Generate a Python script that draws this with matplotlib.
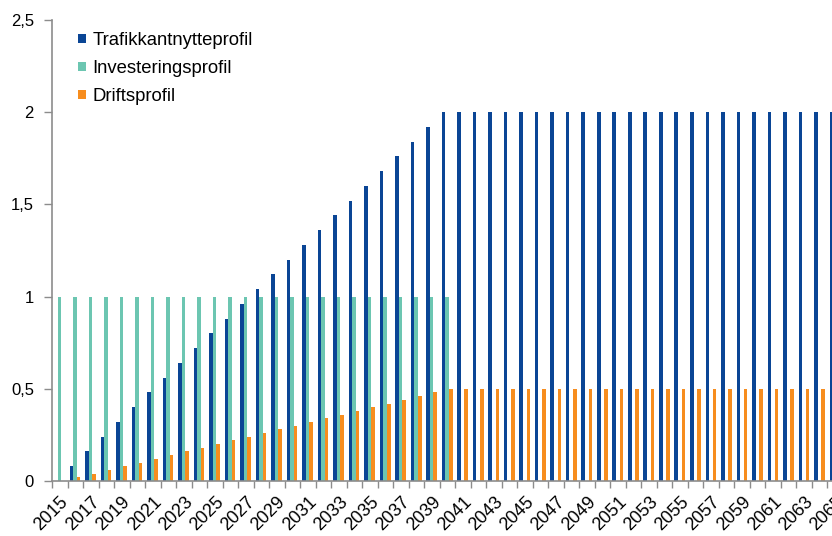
import matplotlib
matplotlib.use("Agg")
import matplotlib.pyplot as plt
from matplotlib.patches import Patch
from matplotlib.transforms import ScaledTranslation
import numpy as np

plt.rcParams['font.family'] = ['Liberation Sans', 'DejaVu Sans']

years = list(range(2015, 2066))
trafikk = [0.00, 0.08, 0.16, 0.24, 0.32, 0.40, 0.48, 0.56, 0.64, 0.72,
           0.80, 0.88, 0.96, 1.04, 1.12, 1.20, 1.28, 1.36, 1.44, 1.52,
           1.60, 1.68, 1.76, 1.84, 1.92, 2.00, 2.00, 2.00, 2.00, 2.00,
           2.00, 2.00, 2.00, 2.00, 2.00, 2.00, 2.00, 2.00, 2.00, 2.00,
           2.00, 2.00, 2.00, 2.00, 2.00, 2.00, 2.00, 2.00, 2.00, 2.00,
           2.00]
investering = [1, 1, 1, 1, 1, 1, 1, 1, 1, 1,
               1, 1, 1, 1, 1, 1, 1, 1, 1, 1,
               1, 1, 1, 1, 1, 1, 0, 0, 0, 0,
               0, 0, 0, 0, 0, 0, 0, 0, 0, 0,
               0, 0, 0, 0, 0, 0, 0, 0, 0, 0,
               0]
drift = [0.00, 0.02, 0.04, 0.06, 0.08, 0.10, 0.12, 0.14, 0.16, 0.18,
         0.20, 0.22, 0.24, 0.26, 0.28, 0.30, 0.32, 0.34, 0.36, 0.38,
         0.40, 0.42, 0.44, 0.46, 0.48, 0.50, 0.50, 0.50, 0.50, 0.50,
         0.50, 0.50, 0.50, 0.50, 0.50, 0.50, 0.50, 0.50, 0.50, 0.50,
         0.50, 0.50, 0.50, 0.50, 0.50, 0.50, 0.50, 0.50, 0.50, 0.50,
         0.50]
series_names = ['Trafikkantnytteprofil', 'Investeringsprofil', 'Driftsprofil']
tick_labels = [str(y) for y in years[::2]]
y_ticks = [0, 0.5, 1, 1.5, 2, 2.5]
y_tick_labels = ['0', '0,5', '1', '1,5', '2', '2,5']

colors = ['#0A4595', '#6CC6B1', '#F78D1E']

fig = plt.figure(figsize=(8.32, 5.36), dpi=100)
ax = fig.add_axes([52/832, 55/536, 791/832, 461/536])

x = np.arange(len(years))
bw = 0.23
for off, vals, c in zip([-bw - 0.02, -0.02, bw - 0.02], [trafikk, investering, drift], colors):
    ax.bar(x + off, vals, width=bw, color=c, edgecolor='none')

ax.set_xlim(-0.5, len(years) - 0.5)
ax.set_ylim(0, 2.5)
ax.set_yticks(y_ticks)
ax.set_yticklabels(y_tick_labels, fontsize=12)

# category boundary ticks (minor) and labels (major)
ax.set_xticks(np.arange(-0.5, len(years) + 0.5, 1), minor=True)
ax.set_xticks(x[::2])
ax.set_xticklabels(tick_labels, rotation=45, ha='right', va='top',
                   rotation_mode='anchor', fontsize=13)
shift = ScaledTranslation(-3/100, 0, fig.dpi_scale_trans)
for lab in ax.get_xticklabels():
    lab.set_transform(lab.get_transform() + shift)
ax.tick_params(axis='x', which='major', length=0, pad=9)
ax.tick_params(axis='x', which='minor', length=5, color='#8C8C8C', width=1)
ax.tick_params(axis='y', length=6, color='#8C8C8C', width=1, pad=7)

for s in ['top', 'right']:
    ax.spines[s].set_visible(False)
for s in ['left', 'bottom']:
    ax.spines[s].set_color('#8C8C8C')
    ax.spines[s].set_linewidth(1.2)

handles = [Patch(facecolor=c, edgecolor='none') for c in colors]
ax.legend(handles, series_names, loc='upper left', bbox_to_anchor=(0.012, 1.01),
          frameon=False, fontsize=13.3, handlelength=0.45, handleheight=0.42,
          handletextpad=0.33, labelspacing=0.6)

fig.savefig('out.png', dpi=100)
